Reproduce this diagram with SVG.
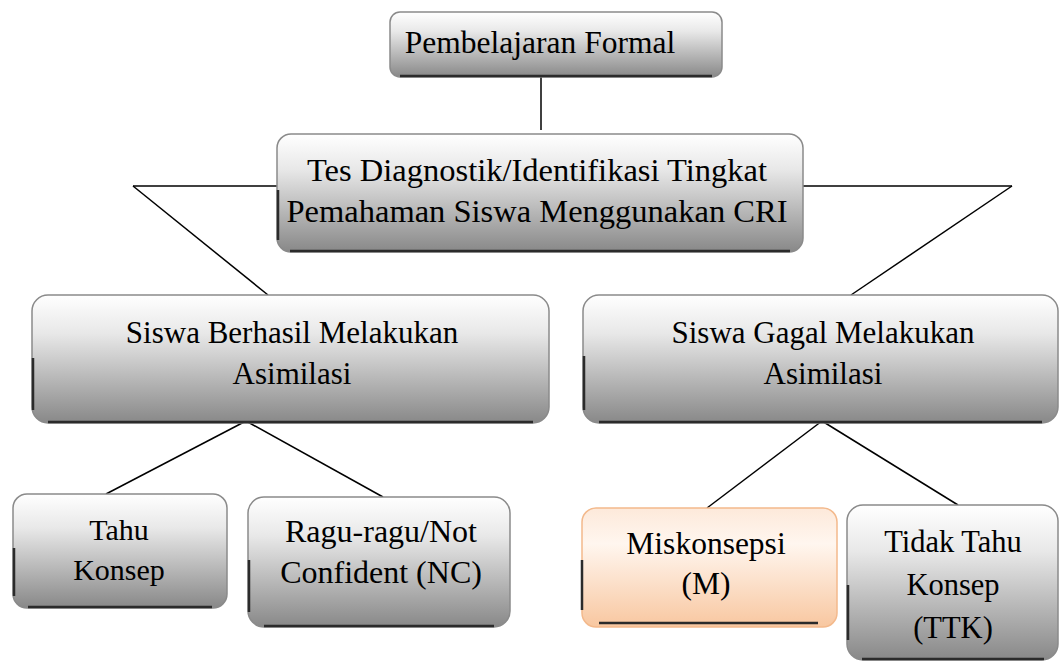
<svg xmlns="http://www.w3.org/2000/svg" width="1061" height="664" viewBox="0 0 1061 664">
  <style>
    .box { stroke: #8a8a8a; stroke-width: 1.5; }
    .gray { fill: url(#grayFill); }
    .orange { fill: url(#orangeFill); stroke: #f3b98c; }
    .edge { fill: none; stroke: #2b2b2b; stroke-width: 2.5; }
    .lbl { font-family: "Liberation Serif", "Times New Roman", serif; fill: #000; text-anchor: middle; }
    .conn line { stroke: #000; stroke-width: 1.5; }
  </style>
  <defs>
    <linearGradient id="grayFill" x1="0" y1="0" x2="0" y2="1">
      <stop offset="0" stop-color="#ffffff"/>
      <stop offset="0.3" stop-color="#e8e8e8"/>
      <stop offset="1" stop-color="#888888"/>
    </linearGradient>
    <linearGradient id="orangeFill" x1="0" y1="0" x2="0" y2="1">
      <stop offset="0" stop-color="#fde9da"/>
      <stop offset="0.3" stop-color="#fff6ef"/>
      <stop offset="1" stop-color="#f8c7a0"/>
    </linearGradient>
  </defs>

  <rect width="1061" height="664" fill="#ffffff"/>

  <!-- connectors -->
  <g id="connectors" class="conn">
    <line x1="541" y1="77" x2="541" y2="130"/>
    <line x1="133" y1="186" x2="277" y2="186"/>
    <line x1="133" y1="186" x2="268" y2="295"/>
    <line x1="803" y1="186" x2="1012" y2="186"/>
    <line x1="1012" y1="186" x2="851" y2="295"/>
    <line x1="246" y1="421" x2="106" y2="494"/>
    <line x1="246" y1="421" x2="383" y2="497"/>
    <line x1="822" y1="421" x2="707" y2="508"/>
    <line x1="822" y1="421" x2="958" y2="505"/>
  </g>

  <!-- Pembelajaran Formal -->
  <g id="node-formal">
    <rect class="box gray" x="390" y="12" width="332" height="65" rx="10"/>
    <path class="edge" d="M400 76 H712"/>
    <text class="lbl" x="540" y="53" font-size="31.5">Pembelajaran Formal</text>
  </g>

  <!-- Tes Diagnostik -->
  <g id="node-tes">
    <rect class="box gray" x="277" y="134" width="526" height="118" rx="14"/>
    <path class="edge" d="M290 251 H790"/>
    <path class="edge" d="M278 190 V240"/>
    <text class="lbl" x="537" y="181" font-size="32.5">Tes Diagnostik/Identifikasi Tingkat</text>
    <text class="lbl" x="537" y="222" font-size="32.5">Pemahaman Siswa Menggunakan CRI</text>
  </g>

  <!-- Siswa Berhasil -->
  <g id="node-berhasil">
    <rect class="box gray" x="32" y="295" width="517" height="128" rx="16"/>
    <path class="edge" d="M48 422 H533"/>
    <path class="edge" d="M33 358 V410"/>
    <text class="lbl" x="292" y="343" font-size="31">Siswa Berhasil Melakukan</text>
    <text class="lbl" x="292" y="384" font-size="31">Asimilasi</text>
  </g>

  <!-- Siswa Gagal -->
  <g id="node-gagal">
    <rect class="box gray" x="583" y="295" width="475" height="128" rx="16"/>
    <path class="edge" d="M599 422 H1042"/>
    <path class="edge" d="M584 356 V410"/>
    <text class="lbl" x="823" y="343" font-size="31">Siswa Gagal Melakukan</text>
    <text class="lbl" x="823" y="384" font-size="31">Asimilasi</text>
  </g>

  <!-- Tahu Konsep -->
  <g id="node-tahu">
    <rect class="box gray" x="13" y="494" width="214" height="114" rx="14"/>
    <path class="edge" d="M28 607 H212"/>
    <path class="edge" d="M14 548 V596"/>
    <text class="lbl" x="119" y="540" font-size="30">Tahu</text>
    <text class="lbl" x="119" y="580" font-size="30">Konsep</text>
  </g>

  <!-- Ragu-ragu -->
  <g id="node-ragu">
    <rect class="box gray" x="248" y="497" width="262" height="130" rx="16"/>
    <path class="edge" d="M264 626 H494"/>
    <path class="edge" d="M249 560 V612"/>
    <text class="lbl" x="381" y="542" font-size="32">Ragu-ragu/Not</text>
    <text class="lbl" x="381" y="583" font-size="32">Confident (NC)</text>
  </g>

  <!-- Miskonsepsi -->
  <g id="node-miskonsepsi">
    <rect class="box orange" x="582" y="508" width="255" height="119" rx="14"/>
    <path class="edge" d="M599 623 H818"/>
    <path class="edge" d="M582 560 V610"/>
    <text class="lbl" x="706" y="554" font-size="31.5">Miskonsepsi</text>
    <text class="lbl" x="706" y="594" font-size="31.5">(M)</text>
  </g>

  <!-- Tidak Tahu Konsep -->
  <g id="node-ttk">
    <rect class="box gray" x="847" y="505" width="211" height="155" rx="16"/>
    <path class="edge" d="M862 659 H1044"/>
    <path class="edge" d="M848 585 V640"/>
    <text class="lbl" x="953" y="552" font-size="30.5">Tidak Tahu</text>
    <text class="lbl" x="953" y="595" font-size="30.5">Konsep</text>
    <text class="lbl" x="953" y="638" font-size="30.5">(TTK)</text>
  </g>
</svg>
